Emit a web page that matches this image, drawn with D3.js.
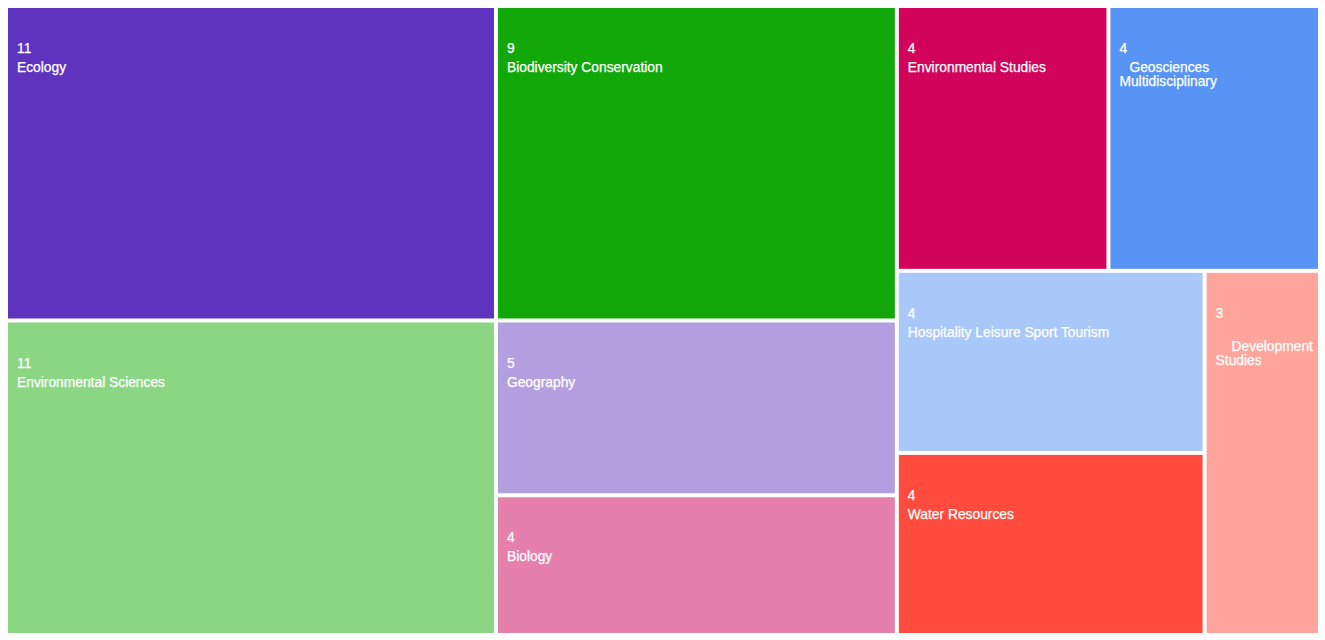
<!DOCTYPE html>
<html>
<head>
<meta charset="utf-8">
<script src="https://cdn.jsdelivr.net/npm/d3@7"></script>
<style>
  html, body { margin: 0; padding: 0; background: #ffffff; }
  svg { display: block; }
  text { font-family: "Liberation Sans", Arial, Helvetica, sans-serif; }
</style>
</head>
<body>
<svg id="chart" width="1325" height="640"></svg>
<script>
// ---- Data ----
const categories = [
  "Ecology",
  "Environmental Sciences",
  "Biodiversity Conservation",
  "Geography",
  "Biology",
  "Environmental Studies",
  "Geosciences Multidisciplinary",
  "Hospitality Leisure Sport Tourism",
  "Water Resources",
  "Development Studies"
];
const counts = [11, 11, 9, 5, 4, 4, 4, 4, 4, 3];
const colors = [
  "#5E34BE", "#8BD682", "#12A809", "#B39FDF", "#E57FAC",
  "#D1035A", "#5894F5", "#A9C8FA", "#FF4C3E", "#FFA59B"
];
// label lines as they wrap in the reference ("" = empty wrapped line)
const labelLines = [
  ["Ecology"],
  ["Environmental Sciences"],
  ["Biodiversity Conservation"],
  ["Geography"],
  ["Biology"],
  ["Environmental Studies"],
  ["Geosciences", "Multidisciplinary"],
  ["Hospitality Leisure Sport Tourism"],
  ["Water Resources"],
  ["", "Development", "Studies"]
];

// ---- Layout / style ----
const W = 1325, H = 640;
const margin = { left: 8, top: 8, right: 7, bottom: 7 };
const firstLineIndent = { "Geosciences": 10, "Development": 16 };

const svg = d3.select("#chart");

const rootData = {
  name: "root",
  children: categories.map((c, i) => ({ name: c, value: counts[i], color: colors[i], lines: labelLines[i] }))
};

const root = d3.hierarchy(rootData)
  .sum(d => d.value || 0)
  .sort((a, b) => b.value - a.value);

d3.treemap()
  .tile(d3.treemapSquarify)
  .size([W - margin.left - margin.right, H - margin.top - margin.bottom])
  .paddingInner(4)
  .round(false)(root);

const g = svg.append("g").attr("transform", `translate(${margin.left},${margin.top})`);

const cell = g.selectAll("g.cell")
  .data(root.leaves())
  .join("g")
  .attr("class", "cell")
  .attr("transform", d => `translate(${d.x0},${d.y0})`);

cell.append("rect")
  .attr("width", d => d.x1 - d.x0)
  .attr("height", d => d.y1 - d.y0)
  .attr("fill", d => d.data.color);

const fontSize = "13.8px";

cell.append("text")
  .attr("x", 9)
  .attr("y", 45)
  .attr("fill", "#ffffff")
  .attr("stroke", "#ffffff")
  .attr("stroke-width", 0.25)
  .attr("font-size", fontSize)
  .text(d => d.data.value);

cell.each(function(d) {
  const t = d3.select(this).append("text")
    .attr("fill", "#ffffff")
    .attr("stroke", "#ffffff")
    .attr("stroke-width", 0.25)
    .attr("font-size", fontSize);
  d.data.lines.forEach((line, i) => {
    if (line === "") return;
    t.append("tspan")
      .attr("x", 9 + (firstLineIndent[line] || 0))
      .attr("y", 64 + i * 14)
      .text(line);
  });
});
</script>
</body>
</html>
